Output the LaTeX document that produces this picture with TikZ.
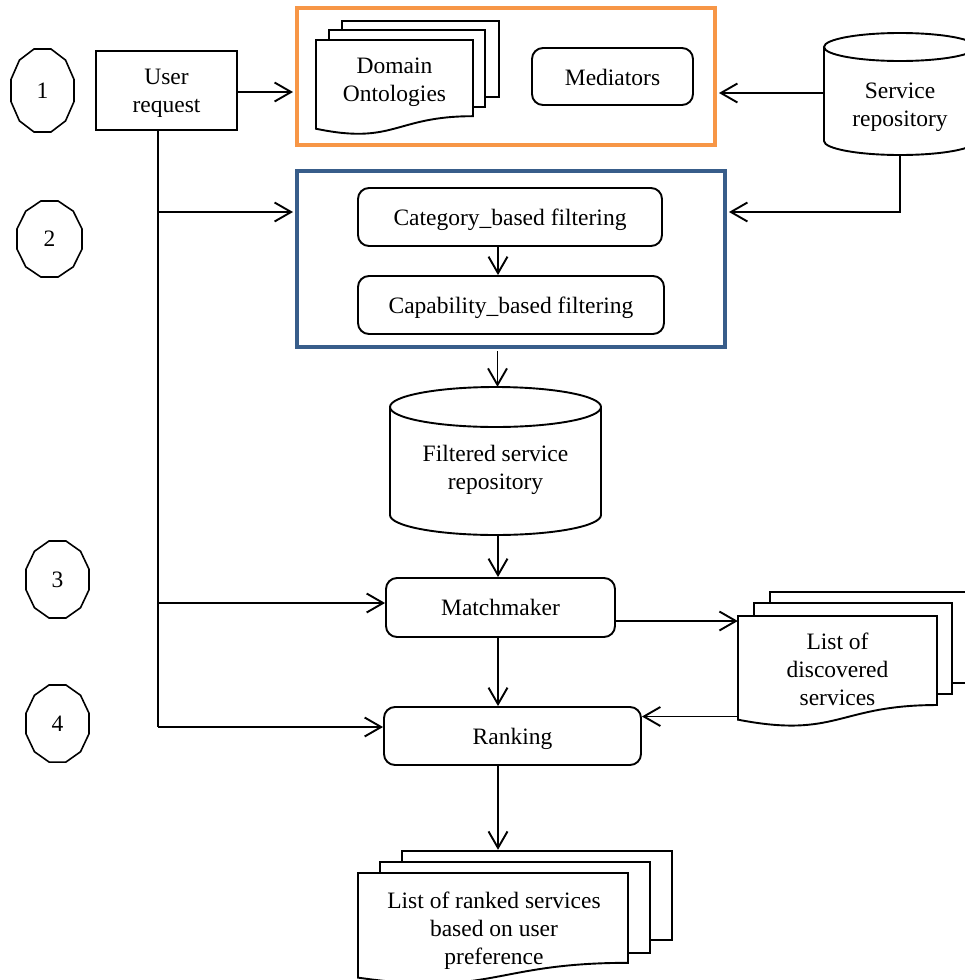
\documentclass[tikz,border=0pt]{standalone}
\usepackage{fontspec}
\setmainfont{Liberation Serif}
\usetikzlibrary{arrows.meta,calc}
\definecolor{oborder}{HTML}{F79646}
\definecolor{bborder}{HTML}{385D8A}
\tikzset{
  line/.style={line width=1.9pt},
  arr/.style={line, -{Straight Barb[length=16.5pt,width=19pt,line width=1.9pt]}},
  txt/.style={font=\fontsize{23.5}{28}\selectfont, align=center, inner sep=0pt},
  rbox/.style={txt, draw, line, rounded corners=11pt},
  sbox/.style={txt, draw, line},
  framebox/.style={draw, line width=4pt, inner sep=0pt},
  shapeframe/.style={txt, inner sep=0pt}
}
\newcommand\dodeca[3]{\draw[line width=1.6pt] ($(#1)+(15:#2pt and #3pt)$) \foreach \a in {45,75,...,345}{ -- ($(#1)+(\a:#2pt and #3pt)$)} -- cycle;}
\newcommand\docsheet[4]{\draw[line, fill=white] (#1,#2) -- (#3,#2) -- (#3,{#2+0.802*#4}) .. controls ({(#1+#3)/2},{#2+0.802*#4}) and ({(#1+#3)/2},{#2+1.107*#4}) .. (#1,{#2+0.934*#4}) -- cycle;}
\newcommand\cyl[5]{% cx top bottom rx ry
  \draw[line] ({#1-#4},{#2+#5}) -- ({#1-#4},{#3-#5}) arc[start angle=180,end angle=360,x radius=#4pt,y radius=#5pt] -- ({#1+#4},{#2+#5});
  \draw[line] (#1,{#2+#5}) ellipse[x radius=#4pt,y radius=#5pt];}
\begin{document}
\begin{tikzpicture}[x=1pt,y=-1pt]
\useasboundingbox (0,0) rectangle (964,980);

% step markers
\node[txt] (s1) at (42.5,90.5) {1};
\node[txt] (s2) at (49.5,239) {2};
\node[txt] (s3) at (57.5,579.5) {3};
\node[txt] (s4) at (57.5,723.5) {4};
\dodeca{s1}{32.6}{43}
\dodeca{s2}{33.6}{39.3}
\dodeca{s3}{32.6}{39.9}
\dodeca{s4}{32.6}{39.9}

% user request
\node[sbox, minimum width=141pt, minimum height=79pt] (ur) at (166.5,90.5) {};
\node[txt] (urt) at (166.5,93) {User\\request};

% orange group
\node[framebox, draw=oborder, minimum width=418pt, minimum height=137pt] (onto) at (506,76.5) {};
\draw[line, fill=white] (342,21) rectangle (499,97);
\draw[line, fill=white] (329,30) rectangle (485,107);
\docsheet{316}{40}{473}{95}
\node[txt] (dom) at (394.5,82.5) {Domain\\Ontologies};
\node[rbox, minimum width=161pt, minimum height=57pt] (med) at (612.5,76.5) {};
\node[txt] (medt) at (612.5,77.5) {Mediators};

% service repository
\cyl{900}{33}{155}{76}{14}
\node[shapeframe, minimum width=152pt, minimum height=122pt] (sr) at (900,93) {};
\node[txt] (srt) at (900,107) {Service\\repository};

% blue group
\node[framebox, draw=bborder, minimum width=428pt, minimum height=176pt] (filt) at (511,259) {};
\node[rbox, minimum width=304pt, minimum height=58pt] (cat) at (510,217) {};
\node[txt] (catt) at (510,220) {Category\_based filtering};
\node[rbox, minimum width=306pt, minimum height=58pt] (cap) at (511,305) {};
\node[txt] (capt) at (511,308) {Capability\_based filtering};

% filtered repository
\cyl{495.5}{387}{535}{105.5}{20}
\node[shapeframe, minimum width=211pt, minimum height=148pt] (fsr) at (495.5,461) {};
\node[txt] (fsrt) at (495.5,470) {Filtered service\\repository};

% matchmaker, ranking
\node[rbox, minimum width=229pt, minimum height=59pt] (mm) at (500.5,607.5) {};
\node[txt] (mmt) at (500.5,607.5) {Matchmaker};
\node[rbox, minimum width=257pt, minimum height=58pt] (rk) at (512.5,736) {};
\node[txt] (rkt) at (512.5,739) {Ranking};

% discovered services
\draw[line, fill=white] (770,592) rectangle (968,683);
\draw[line, fill=white] (754,603) rectangle (952,694);
\docsheet{738}{616}{937}{111}
\node[shapeframe, minimum width=199pt, minimum height=111pt] (lds) at (837.5,671.5) {};
\node[txt] (ldst) at (837.5,669) {List of\\discovered\\services};

% ranked services
\draw[line, fill=white] (402,851) rectangle (672,940);
\draw[line, fill=white] (380,862) rectangle (650,953);
\docsheet{358}{873}{628}{112}
\node[shapeframe, minimum width=270pt, minimum height=112pt] (lrs) at (493,929) {};
\node[txt] (lrst) at (494,931) {List of ranked services\\based on user\\preference};

% connectors
\coordinate (a1) at ($(ur.east)+(0,1.5)$);
\draw[arr] (a1) -- ([xshift=-2pt]a1 -| onto.west);
\draw[arr] (sr.west) -- ([xshift=2pt]sr.west -| onto.east);
\coordinate (fin) at ($(filt.east)+(0,-47)$);
\draw[arr] (sr.south) |- ([xshift=2pt]fin);

\coordinate (vtop) at ($(ur.south)+(-8.5,0)$);
\coordinate (bin) at ($(filt.west)+(0,-47)$);
\coordinate (min) at ($(mm.west)+(0,-4.5)$);
\coordinate (rin) at ($(rk.west)+(0,-9)$);
\draw[line] (vtop) -- (vtop |- rin);
\draw[arr] (vtop |- bin) -- ([xshift=-2pt]bin);
\draw[arr] (vtop |- min) -- (min);
\draw[arr] (vtop |- rin) -- (rin);

\coordinate (c1) at ($(cat.south)+(-12,0)$);
\draw[arr] (c1) -- (c1 |- cap.north);
\coordinate (c2) at ($(fsr.north)+(2,0)$);
\draw[arr] ([yshift=-2pt]c2 |- filt.south) -- (c2);
\coordinate (c3) at ($(fsr.south)+(2.5,0)$);
\draw[arr] (c3) -- (c3 |- mm.north);
\coordinate (c4) at ($(mm.south)+(-2.5,0)$);
\draw[arr] (c4) -- (c4 |- rk.north);
\coordinate (c5) at ($(mm.east)+(0,13.5)$);
\draw[arr] (c5) -- (c5 -| lds.west);
\coordinate (c6) at ($(rk.east)+(0,-19.5)$);
\draw[arr] (c6 -| lds.west) -- (c6);
\coordinate (c7) at ($(rk.south)+(-14.5,0)$);
\coordinate (c8) at ($(lrs.north)+(5,-23)$);
\draw[arr] (c7) -- (c8);
\end{tikzpicture}
\end{document}
